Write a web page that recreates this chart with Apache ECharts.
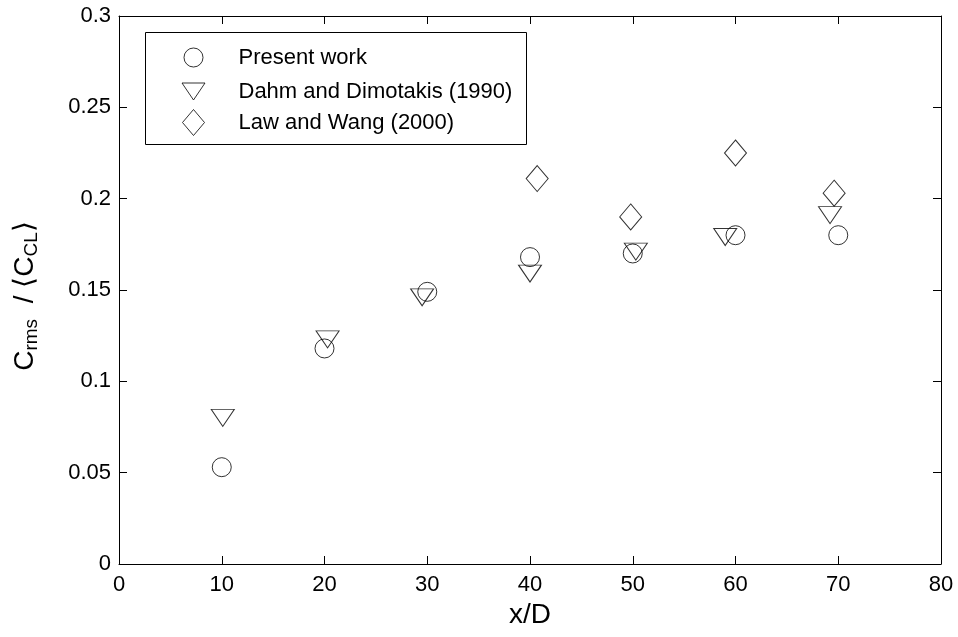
<!DOCTYPE html>
<html>
<head>
<meta charset="utf-8">
<script src="https://cdn.jsdelivr.net/npm/echarts@6/dist/echarts.min.js"></script>
<style>
  html, body { margin: 0; padding: 0; background: #fff; }
  #chart { width: 958px; height: 637px; }
</style>
</head>
<body>
<div id="chart"></div>
<script>
// Centreline-normalised rms concentration versus downstream distance
const seriesNames = ['Present work', 'Dahm and Dimotakis (1990)', 'Law and Wang (2000)'];

const presentX = [10, 20, 30, 40, 50, 60, 70];
const presentY = [0.053, 0.118, 0.149, 0.168, 0.170, 0.180, 0.180];

const dahmX = [10.1, 20.3, 29.5, 40.0, 50.3, 59.0, 69.2];
const dahmY = [0.080, 0.123, 0.146, 0.159, 0.171, 0.179, 0.191];

const lawX = [40.7, 49.8, 60.0, 69.6];
const lawY = [0.211, 0.190, 0.225, 0.203];

const xTicks = [0, 10, 20, 30, 40, 50, 60, 70, 80];
const yTicks = [0, 0.05, 0.1, 0.15, 0.2, 0.25, 0.3];

const FONT = "'Liberation Sans', Arial, Helvetica, sans-serif";
const TICK_FS = 22, LEGEND_FS = 22, TITLE_FS = 28;
const pairs = (xs, ys) => xs.map((x, i) => [x, ys[i]]);

const hollow = { color: 'rgba(0,0,0,0)', borderColor: '#000', borderWidth: 1 };

const G = { left: 119, right: 17, top: 16, bottom: 73 };

const tickStyle = { show: true, inside: true, length: 8, lineStyle: { color: '#000', width: 1 } };
const lineStyle = { show: true, onZero: false, lineStyle: { color: '#000', width: 1 } };

// Legend: one component per entry so every marker keeps its own size
const ICON_CX = 193, TEXT_X = 238, BOX_X = 143, BOX_Y = 30, BOX_H = 112;
const ROW_Y = [56, 89, 122];
const downTriangle = 'path://M0,0L23,0L11.5,17Z';

const measure = document.createElement('canvas').getContext('2d');
measure.font = LEGEND_FS + 'px ' + FONT;
const longest = Math.max(...seriesNames.map(n => measure.measureText(n).width));
const BOX_W = Math.round(TEXT_X + longest + 12 - BOX_X);

const legendRow = (name, cy, w, h, icon) => ({
  data: [icon ? { name: name, icon: icon } : name],
  orient: 'vertical',
  left: ICON_CX - w / 2,
  top: cy - h / 2,
  itemWidth: w,
  itemHeight: h,
  padding: 0,
  selectedMode: false,
  itemStyle: { color: 'rgba(0,0,0,0)', borderColor: '#000', borderWidth: 1 },
  textStyle: { fontFamily: FONT, fontSize: LEGEND_FS, color: '#000',
    padding: [0, 0, 0, TEXT_X - (ICON_CX + w / 2) - 5] }
});

const chart = echarts.init(document.getElementById('chart'), null, { renderer: 'canvas' });

chart.setOption({
  animation: false,
  backgroundColor: '#fff',
  textStyle: { fontFamily: FONT },
  grid: G,
  xAxis: [
    {
      type: 'value', position: 'bottom', min: 0, max: 80, interval: 10,
      axisLine: lineStyle, axisTick: tickStyle, splitLine: { show: false },
      axisLabel: { color: '#000', fontSize: TICK_FS, fontFamily: FONT, margin: 10,
        formatter: v => xTicks.includes(v) ? String(v) : '' },
      name: 'x/D', nameLocation: 'middle', nameGap: 33,
      nameTextStyle: { color: '#000', fontSize: TITLE_FS, fontFamily: FONT }
    },
    {
      type: 'value', position: 'top', min: 0, max: 80, interval: 10,
      axisLine: lineStyle, axisTick: tickStyle, splitLine: { show: false },
      axisLabel: { show: false }
    }
  ],
  yAxis: [
    {
      type: 'value', position: 'left', min: 0, max: 0.3, interval: 0.05,
      axisLine: lineStyle, axisTick: tickStyle, splitLine: { show: false },
      axisLabel: { color: '#000', fontSize: TICK_FS, fontFamily: FONT, margin: 8,
        formatter: v => { const t = yTicks.find(k => Math.abs(k - v) < 1e-9); return t === undefined ? '' : String(t); } },
      name: '{m|C}{s|rms}{m|  / \u27E8C}{s|CL}{m|\u27E9}',
      nameLocation: 'middle', nameRotate: 90, nameGap: 78,
      nameTextStyle: {
        color: '#000', fontFamily: FONT, padding: [0, 12, 0, 0],
        rich: {
          m: { fontSize: TITLE_FS, fontFamily: FONT, color: '#000', lineHeight: 32 },
          s: { fontSize: 19, fontFamily: FONT, color: '#000', lineHeight: 32, verticalAlign: 'bottom', padding: [13, 0, 0, 0] }
        }
      }
    },
    {
      type: 'value', position: 'right', min: 0, max: 0.3, interval: 0.05,
      axisLine: lineStyle, axisTick: tickStyle, splitLine: { show: false },
      axisLabel: { show: false }
    }
  ],
  legend: [
    legendRow(seriesNames[0], ROW_Y[0], 19, 19, null),
    legendRow(seriesNames[1], ROW_Y[1], 23, 17, downTriangle),
    legendRow(seriesNames[2], ROW_Y[2], 22, 26, null)
  ],
  graphic: [
    { type: 'rect', left: BOX_X, top: BOX_Y, shape: { width: BOX_W, height: BOX_H },
      style: { fill: 'none', stroke: '#000', lineWidth: 1 }, z: 0, silent: true }
  ],
  series: [
    { name: seriesNames[0], type: 'scatter', data: pairs(presentX, presentY),
      symbol: 'circle', symbolSize: 19, itemStyle: hollow },
    { name: seriesNames[1], type: 'scatter', data: pairs(dahmX, dahmY),
      symbol: 'triangle', symbolRotate: 180, symbolSize: [23, 17], itemStyle: hollow },
    { name: seriesNames[2], type: 'scatter', data: pairs(lawX, lawY),
      symbol: 'diamond', symbolSize: [22, 26], itemStyle: hollow }
  ]
});
</script>
</body>
</html>
